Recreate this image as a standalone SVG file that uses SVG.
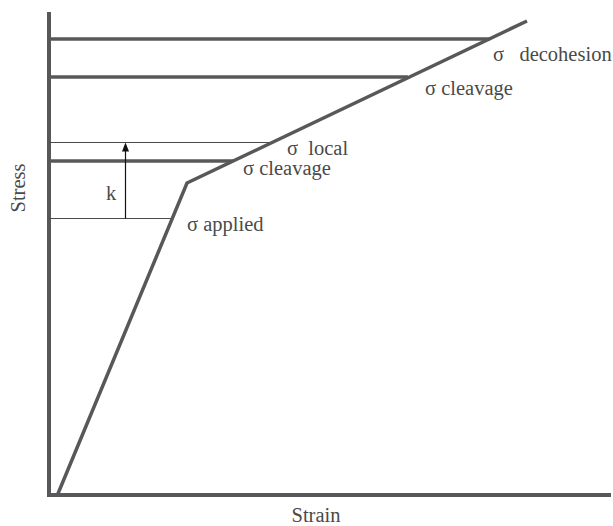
<svg xmlns="http://www.w3.org/2000/svg" width="613" height="526" viewBox="0 0 613 526">
  <style>
    .t { font-family: "Liberation Serif", "Times New Roman", serif; font-size: 20.5px; fill: #4a4a4a; white-space: pre; }
    .thick { stroke: #58585a; stroke-width: 3.5; fill: none; }
    .axis { stroke: #58585a; stroke-width: 4; fill: none; }
    .thin { stroke: #4a4a4a; stroke-width: 1; fill: none; }
  </style>
  <rect width="613" height="526" fill="#fff"/>
  <g id="axes">
    <line class="axis" x1="49" y1="12" x2="49" y2="497"/>
    <line class="axis" x1="47" y1="495" x2="611" y2="495"/>
  </g>
  <g id="levels">
    <line class="thick" x1="49" y1="39" x2="490" y2="39"/>
    <line class="thick" x1="49" y1="77" x2="408" y2="77"/>
    <line class="thin" x1="49" y1="142.5" x2="272" y2="142.5"/>
    <line class="thick" x1="49" y1="161" x2="233" y2="161"/>
    <line class="thin" x1="49" y1="218.5" x2="173" y2="218.5"/>
  </g>
  <g id="curve">
    <polyline class="thick" stroke-width="3" points="57,496 187,183 527,21"/>
  </g>
  <g id="connectors">
    <path d="M125.5,218.5 L125.5,151" stroke="#111" stroke-width="1.2" fill="none"/>
    <path d="M122,151.5 L125.5,142.5 L129,151.5 Z" fill="#111"/>
  </g>
  <g id="labels">
    <text class="t" x="493" y="61">σ   decohesion</text>
    <text class="t" x="425" y="95">σ cleavage</text>
    <text class="t" x="287" y="155">σ  local</text>
    <text class="t" x="243" y="175">σ cleavage</text>
    <text class="t" x="187" y="231">σ applied</text>
    <text class="t" x="106" y="200">k</text>
    <text class="t" x="316" y="522" text-anchor="middle">Strain</text>
    <text class="t" x="0" y="0" text-anchor="middle" transform="translate(25,188) rotate(-90)">Stress</text>
  </g>
</svg>
